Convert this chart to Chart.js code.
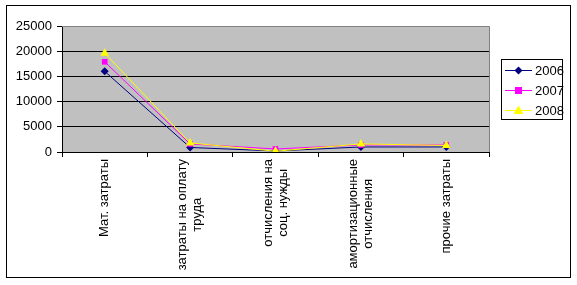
<!DOCTYPE html>
<html>
<head>
<meta charset="utf-8">
<script src="https://cdn.jsdelivr.net/npm/chart.js@4/dist/chart.umd.min.js"></script>
<style>
  body { margin: 0; background: #fff; }
  #wrap { width: 577px; height: 285px; }
</style>
</head>
<body>
<div id="wrap"><canvas id="chart" width="577" height="285"></canvas></div>
<script>
const categories = [
  ['Мат. затраты'],
  ['затраты на оплату', 'труда'],
  ['отчисления на', 'соц. нужды'],
  ['амортизационные', 'отчисления'],
  ['прочие затраты']
];
const years = ['2006', '2007', '2008'];
const values2006 = [16000, 900, 200, 1000, 1000];
const values2007 = [17900, 1600, 600, 1400, 1400];
const values2008 = [19600, 1800, 150, 1600, 1300];
const yTicks = [0, 5000, 10000, 15000, 20000, 25000];

const colors = ['#000080', '#FF00FF', '#FFFF00'];
const markers = ['rectRot', 'rect', 'triangle'];
const markerSize = [4, 4, 5];
const font = '"Liberation Sans", Arial, sans-serif';

function drawMarker(ctx, style, x, y, r, color) {
  ctx.fillStyle = color;
  ctx.beginPath();
  if (style === 'rectRot') {
    ctx.moveTo(x, y - r); ctx.lineTo(x + r, y); ctx.lineTo(x, y + r); ctx.lineTo(x - r, y);
  } else if (style === 'rect') {
    ctx.rect(x - r + 0.5, y - r + 0.5, 2 * r - 1, 2 * r - 1);
  } else {
    ctx.moveTo(x, y - r); ctx.lineTo(x + r, y + r * 0.7); ctx.lineTo(x - r, y + r * 0.7);
  }
  ctx.closePath();
  ctx.fill();
}

const excelLook = {
  id: 'excelLook',
  beforeDraw(chart) {
    const { ctx, chartArea: a } = chart;
    ctx.save();
    ctx.fillStyle = '#fff';
    ctx.fillRect(0, 0, chart.width, chart.height);
    ctx.fillStyle = '#C0C0C0';
    ctx.fillRect(a.left, a.top, a.right - a.left, a.bottom - a.top);
    ctx.restore();
  },
  afterDraw(chart) {
    const { ctx, chartArea: a } = chart;
    ctx.save();
    // plot border top / right
    ctx.strokeStyle = '#808080';
    ctx.lineWidth = 1;
    ctx.beginPath();
    ctx.moveTo(a.left, a.top + 0.5);
    ctx.lineTo(a.right + 0.5, a.top + 0.5);
    ctx.lineTo(a.right + 0.5, a.bottom);
    ctx.stroke();

    // category labels, rotated, centered lines
    const xs = chart.scales.x;
    ctx.fillStyle = '#000';
    ctx.font = '13px ' + font;
    ctx.textBaseline = 'middle';
    ctx.textAlign = 'center';
    categories.forEach((lines, i) => {
      const cx = xs.getPixelForValue(i);
      const maxW = Math.max(...lines.map(l => ctx.measureText(l).width));
      const cy = a.bottom + 7 + maxW / 2;
      const lh = 15;
      lines.forEach((line, j) => {
        const lx = cx + (j - (lines.length - 1) / 2) * lh;
        ctx.save();
        ctx.translate(lx, cy);
        ctx.rotate(-Math.PI / 2);
        ctx.fillText(line, 0, 0);
        ctx.restore();
      });
    });

    // legend
    ctx.strokeStyle = '#000';
    ctx.strokeRect(501.5, 59.5, 61, 60);
    ctx.font = '13px ' + font;
    ctx.textAlign = 'left';
    years.forEach((y, i) => {
      const ly = 70 + i * 20;
      ctx.strokeStyle = colors[i];
      ctx.beginPath();
      ctx.moveTo(505, ly + 0.5);
      ctx.lineTo(532, ly + 0.5);
      ctx.stroke();
      drawMarker(ctx, markers[i], 518.5, ly + 0.5, markerSize[i], colors[i]);
      ctx.fillStyle = '#000';
      ctx.fillText(y, 535, ly + 1);
    });

    // outer border
    ctx.strokeStyle = '#000';
    ctx.strokeRect(6.5, 5.5, 564, 272);
    ctx.restore();
  }
};

const series = [values2006, values2007, values2008];

new Chart(document.getElementById('chart'), {
  type: 'line',
  data: {
    labels: categories.map(c => c.join(' ')),
    datasets: series.map((data, i) => ({
      label: years[i],
      data: data,
      borderColor: colors[i],
      backgroundColor: colors[i],
      borderWidth: 1,
      pointStyle: markers[i],
      pointRadius: markerSize[i],
      pointBorderWidth: 0,
      tension: 0,
      order: 3 - i
    }))
  },
  options: {
    responsive: false,
    animation: false,
    devicePixelRatio: 1,
    layout: { padding: { left: 0, right: 88, top: 26, bottom: 0 } },
    plugins: { legend: { display: false }, tooltip: { enabled: false } },
    scales: {
      x: {
        offset: true,
        grid: { offset: true, drawOnChartArea: false, color: '#000', tickLength: 5 },
        border: { color: '#000' },
        ticks: { display: false },
        afterFit(scale) { scale.height = 133; }
      },
      y: {
        min: 0,
        max: 25000,
        afterBuildTicks(scale) { scale.ticks = yTicks.map(v => ({ value: v })); },
        grid: {
          color: c => (c.tick && c.tick.value === 25000) ? '#808080' : '#000',
          tickColor: '#000',
          tickLength: 5
        },
        border: { color: '#000' },
        ticks: {
          color: '#000',
          font: { family: font, size: 13 },
          padding: 5,
          callback: v => String(v)
        },
        afterFit(scale) { scale.width = 62; }
      }
    }
  },
  plugins: [excelLook]
});
</script>
</body>
</html>
